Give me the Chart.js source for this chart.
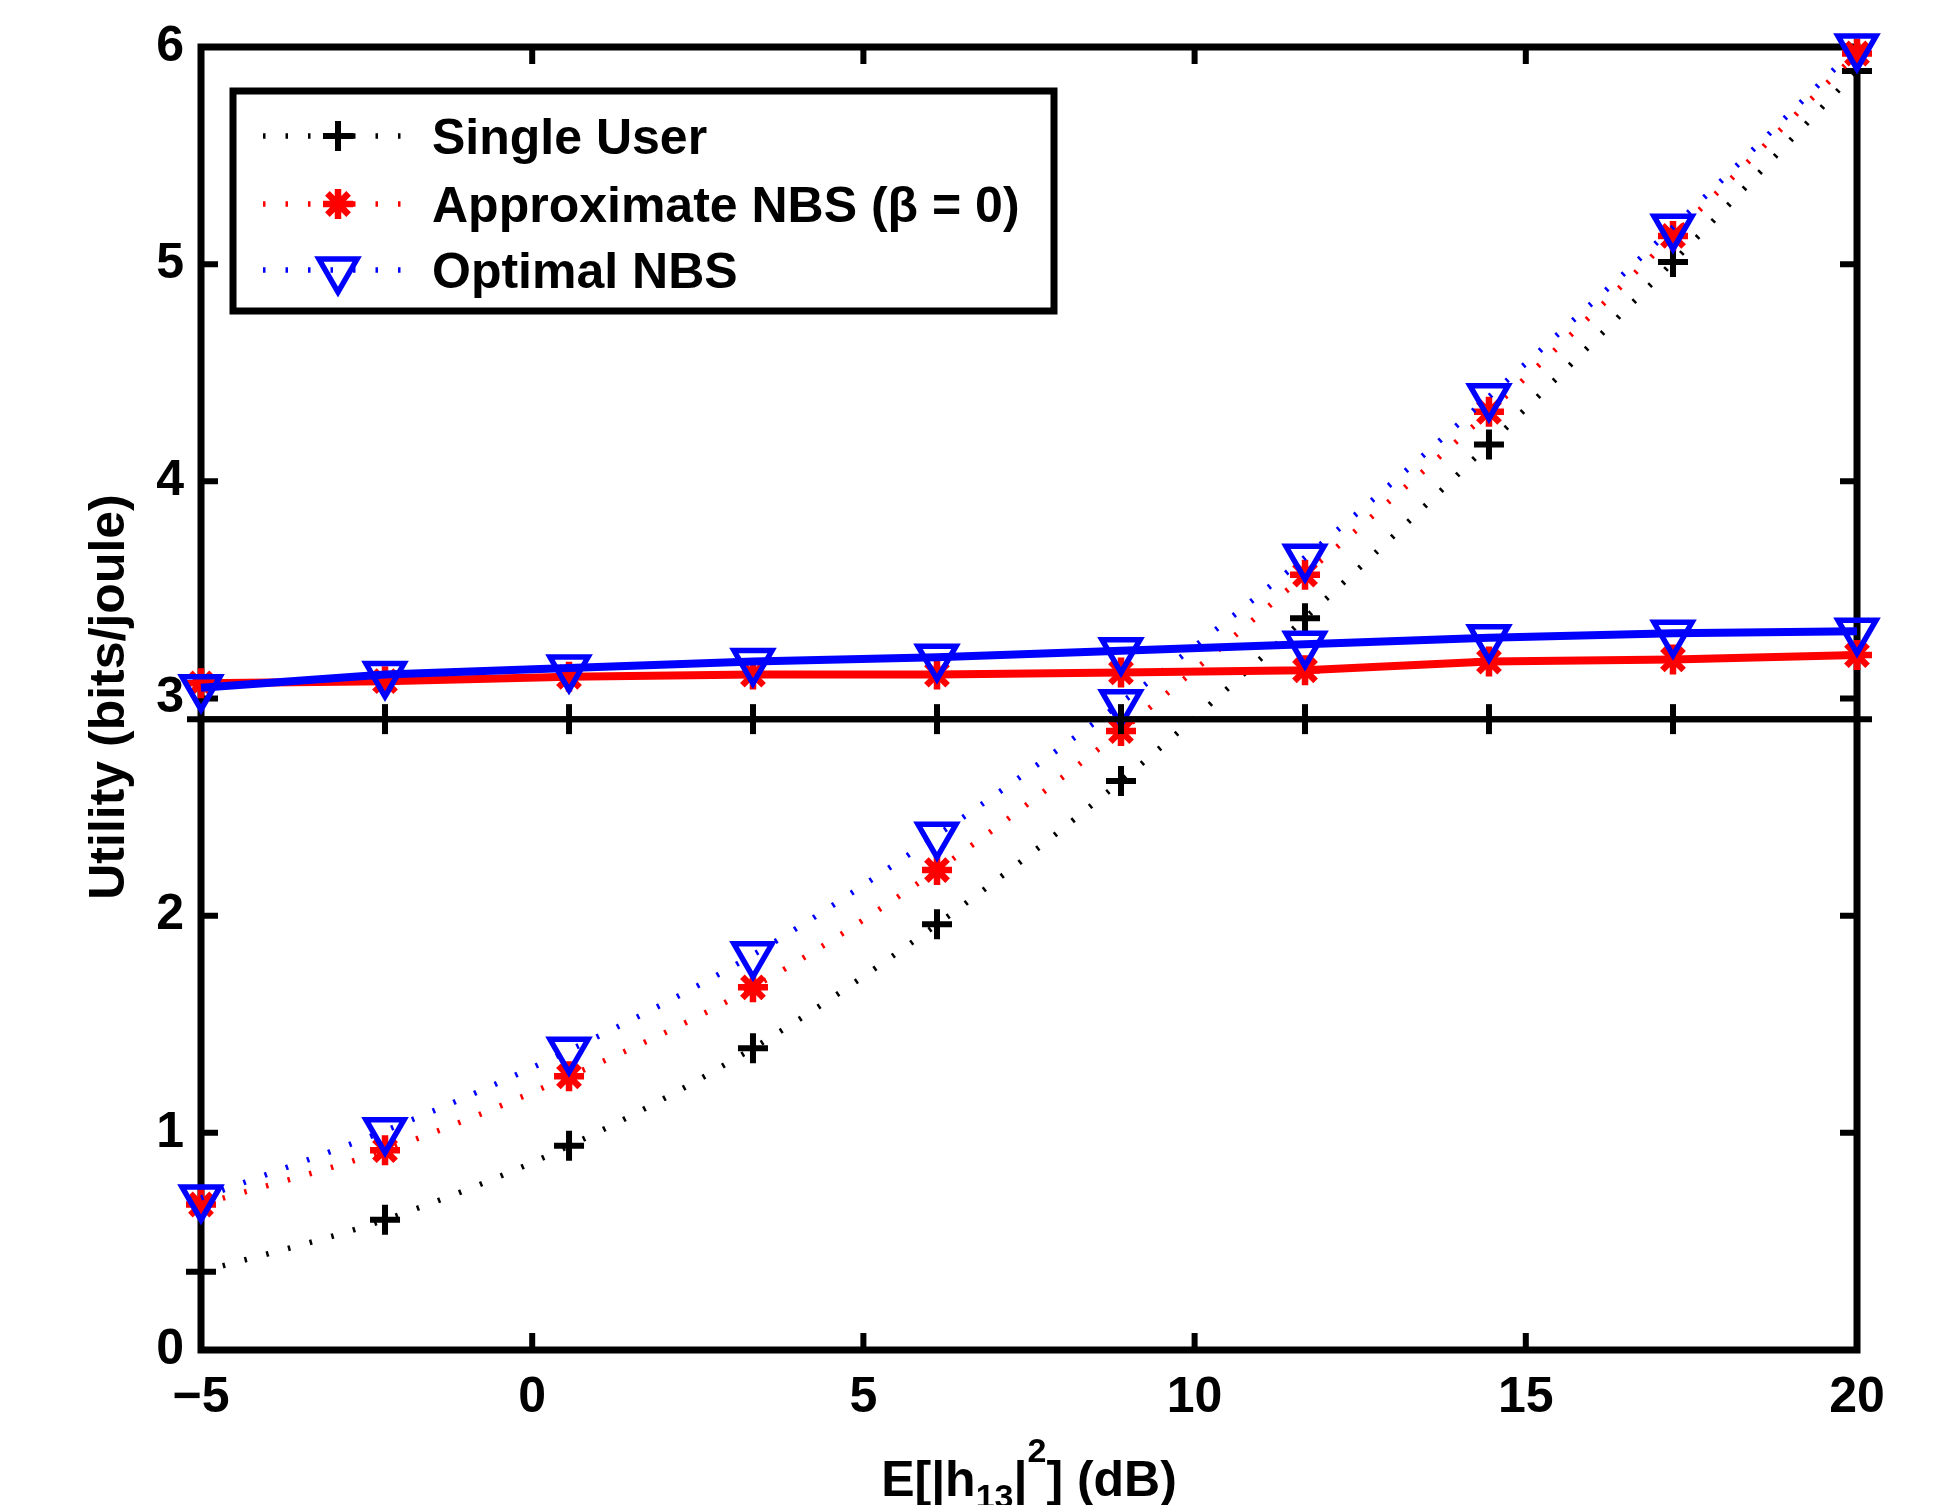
<!DOCTYPE html>
<html>
<head>
<meta charset="utf-8">
<script src="https://cdn.jsdelivr.net/npm/chart.js@4.4.0/dist/chart.umd.min.js"></script>
<style>
  html, body { margin: 0; padding: 0; background: #fff; }
  canvas { display: block; }
</style>
</head>
<body>
<canvas id="chart" width="1933" height="1505"></canvas>
<script>
// values
const xValues = [-5, -2.222, 0.556, 3.333, 6.111, 8.889, 11.667, 14.444, 17.222, 20];
const singleUser = [0.36, 0.60, 0.94, 1.39, 1.96, 2.62, 3.37, 4.17, 5.01, 5.89];
const approxNBS = [0.67, 0.92, 1.26, 1.67, 2.21, 2.85, 3.57, 4.32, 5.13, 5.97];
const optimalNBS = [0.70, 1.01, 1.38, 1.82, 2.37, 2.98, 3.65, 4.39, 5.17, 6.00];
const approxNBSFlat = [3.07, 3.08, 3.10, 3.11, 3.11, 3.12, 3.13, 3.17, 3.18, 3.20];
const optimalNBSFlat = [3.05, 3.11, 3.14, 3.17, 3.19, 3.22, 3.25, 3.28, 3.30, 3.31];
const splitLevel = 2.905;
const xTickValues = [-5, 0, 5, 10, 15, 20];
const yTickValues = [0, 1, 2, 3, 4, 5, 6];
const legendLabels = ['Single User', 'Approximate NBS (\u03b2 = 0)', 'Optimal NBS'];

const FONT = '"Liberation Sans", Arial, Helvetica, sans-serif';
const DOT = [2.5, 20];

const pts = ys => xValues.map((x, i) => ({ x: x, y: ys[i] }));

// marker stroke per style
const markW = { cross: 6, star: 6.5, triangle: 5.5 };

function dotted(label, ys, color, style, radius, order) {
    return {
        label: label,
        data: pts(ys),
        borderColor: color,
        borderWidth: 5.5,
        borderDash: DOT,
        borderCapStyle: 'butt',
        cubicInterpolationMode: 'monotone',
        pointStyle: style,
        pointRadius: radius,
        pointRotation: style === 'triangle' ? 180 : 0,
        pointBorderWidth: markW[style],
        pointBorderColor: color,
        pointBackgroundColor: 'rgba(0,0,0,0)',
        fill: false,
        clip: false,
        order: order
    };
}

function solid(ys, color, style, radius, order) {
    return {
        data: pts(ys),
        borderColor: color,
        borderWidth: 8,
        tension: 0,
        pointStyle: style,
        pointRadius: radius,
        pointRotation: style === 'triangle' ? 180 : 0,
        pointBorderWidth: markW[style],
        pointBorderColor: color,
        pointBackgroundColor: 'rgba(0,0,0,0)',
        fill: false,
        clip: false,
        order: order
    };
}

// box and inward ticks on all four sides
const framePlugin = {
    id: 'frame',
    beforeDatasetsDraw(chart) {
        const { ctx, chartArea: a, scales } = chart;
        const len = 17;
        ctx.save();
        ctx.strokeStyle = '#000';
        ctx.lineWidth = 7;
        ctx.lineCap = 'square';
        ctx.strokeRect(a.left, a.top, a.right - a.left, a.bottom - a.top);
        ctx.lineCap = 'butt';
        ctx.lineWidth = 6;
        ctx.beginPath();
        xTickValues.forEach(v => {
            const px = scales.x.getPixelForValue(v);
            ctx.moveTo(px, a.bottom); ctx.lineTo(px, a.bottom - len);
            ctx.moveTo(px, a.top); ctx.lineTo(px, a.top + len);
        });
        yTickValues.forEach(v => {
            const py = scales.y.getPixelForValue(v);
            ctx.moveTo(a.left, py); ctx.lineTo(a.left + len, py);
            ctx.moveTo(a.right, py); ctx.lineTo(a.right - len, py);
        });
        ctx.stroke();
        // the split line runs a little past both axes
        const sy = scales.y.getPixelForValue(splitLevel);
        ctx.beginPath();
        ctx.moveTo(a.left - 14, sy);
        ctx.lineTo(a.right + 15, sy);
        ctx.stroke();
        ctx.restore();
    }
};

function marker(ctx, ds, x, y) {
    ctx.save();
    ctx.strokeStyle = ds.pointBorderColor;
    ctx.fillStyle = 'rgba(0,0,0,0)';
    ctx.lineWidth = ds.pointBorderWidth;
    Chart.helpers.drawPoint(ctx, {
        pointStyle: ds.pointStyle,
        radius: ds.pointRadius,
        rotation: ds.pointRotation,
        borderWidth: ds.pointBorderWidth
    }, x, y);
    ctx.restore();
}

const legendPlugin = {
    id: 'boxLegend',
    afterDatasetsDraw(chart) {
        const ctx = chart.ctx;
        const box = { left: 233, top: 91, right: 1054, bottom: 311 };
        const rows = [136, 204, 270];
        ctx.save();
        ctx.fillStyle = '#fff';
        ctx.fillRect(box.left, box.top, box.right - box.left, box.bottom - box.top);
        ctx.strokeStyle = '#000';
        ctx.lineWidth = 7;
        ctx.strokeRect(box.left, box.top, box.right - box.left, box.bottom - box.top);
        ctx.font = 'bold 50px ' + FONT;
        ctx.textBaseline = 'alphabetic';
        ctx.textAlign = 'left';
        for (let i = 0; i < 3; i++) {
            const ds = chart.data.datasets[i];
            const y = rows[i];
            ctx.save();
            ctx.strokeStyle = ds.borderColor;
            ctx.lineWidth = ds.borderWidth;
            ctx.setLineDash(ds.borderDash);
            ctx.beginPath();
            ctx.moveTo(263, y);
            ctx.lineTo(409, y);
            ctx.stroke();
            ctx.restore();
            marker(ctx, ds, 338, y);
            ctx.fillStyle = '#000';
            ctx.fillText(legendLabels[i], 432, y + 18);
        }
        ctx.restore();
    }
};

const titlePlugin = {
    id: 'titles',
    afterDraw(chart) {
        const ctx = chart.ctx;
        const big = 'bold 50px ' + FONT;
        const small = 'bold 34px ' + FONT;
        ctx.save();
        ctx.fillStyle = '#000';
        // y title
        ctx.save();
        ctx.translate(124, 697);
        ctx.rotate(-Math.PI / 2);
        ctx.font = big;
        ctx.textAlign = 'center';
        ctx.textBaseline = 'alphabetic';
        ctx.fillText('Utility (bits/joule)', 0, 0);
        ctx.restore();
        // x title with sub/superscript
        const parts = [
            { t: 'E[|h', f: big, dy: 0 },
            { t: '13', f: small, dy: 12 },
            { t: '|', f: big, dy: 0 },
            { t: '2', f: small, dy: -34 },
            { t: '] (dB)', f: big, dy: 0 }
        ];
        let w = 0;
        parts.forEach(p => { ctx.font = p.f; p.w = ctx.measureText(p.t).width; w += p.w; });
        let x = (chart.chartArea.left + chart.chartArea.right) / 2 - w / 2;
        const base = 1496;
        ctx.textAlign = 'left';
        ctx.textBaseline = 'alphabetic';
        parts.forEach(p => { ctx.font = p.f; ctx.fillText(p.t, x, base + p.dy); x += p.w; });
        ctx.restore();
    }
};

const tickFont = { family: FONT, size: 50, weight: 'bold' };

new Chart(document.getElementById('chart'), {
    type: 'line',
    data: {
        datasets: [
            dotted('Single User', singleUser, '#000000', 'cross', 15, 6),
            dotted('Approximate NBS', approxNBS, '#ff0000', 'star', 15, 5),
            dotted('Optimal NBS', optimalNBS, '#0000ff', 'triangle', 22, 4),
            {
                data: pts(xValues.map(() => splitLevel)),
                borderColor: '#000',
                borderWidth: 6,
                pointStyle: 'line',
                pointRotation: 90,
                pointRadius: 15,
                pointBorderWidth: 6,
                pointBorderColor: '#000',
                fill: false,
                clip: false,
                order: 3
            },
            solid(approxNBSFlat, '#ff0000', 'star', 15, 2),
            solid(optimalNBSFlat, '#0000ff', 'triangle', 22, 1)
        ]
    },
    options: {
        responsive: false,
        animation: false,
        devicePixelRatio: 1,
        layout: { padding: { left: 0, right: 76, top: 43, bottom: 0 } },
        plugins: { legend: { display: false }, tooltip: { enabled: false } },
        scales: {
            x: {
                type: 'linear',
                min: -5,
                max: 20,
                afterBuildTicks: s => { s.ticks = xTickValues.map(v => ({ value: v })); },
                afterFit: s => { s.height = 155; },
                grid: { display: false, drawTicks: false },
                border: { display: false },
                ticks: {
                    font: tickFont,
                    color: '#000',
                    padding: 18,
                    maxRotation: 0,
                    autoSkip: false,
                    callback: v => String(v).replace('-', '\u2212')
                }
            },
            y: {
                type: 'linear',
                min: 0,
                max: 6,
                afterBuildTicks: s => { s.ticks = yTickValues.map(v => ({ value: v })); },
                afterFit: s => { s.width = 201; },
                grid: { display: false, drawTicks: false },
                border: { display: false },
                ticks: { font: tickFont, color: '#000', padding: 17, autoSkip: false }
            }
        }
    },
    plugins: [framePlugin, legendPlugin, titlePlugin]
});
</script>
</body>
</html>
